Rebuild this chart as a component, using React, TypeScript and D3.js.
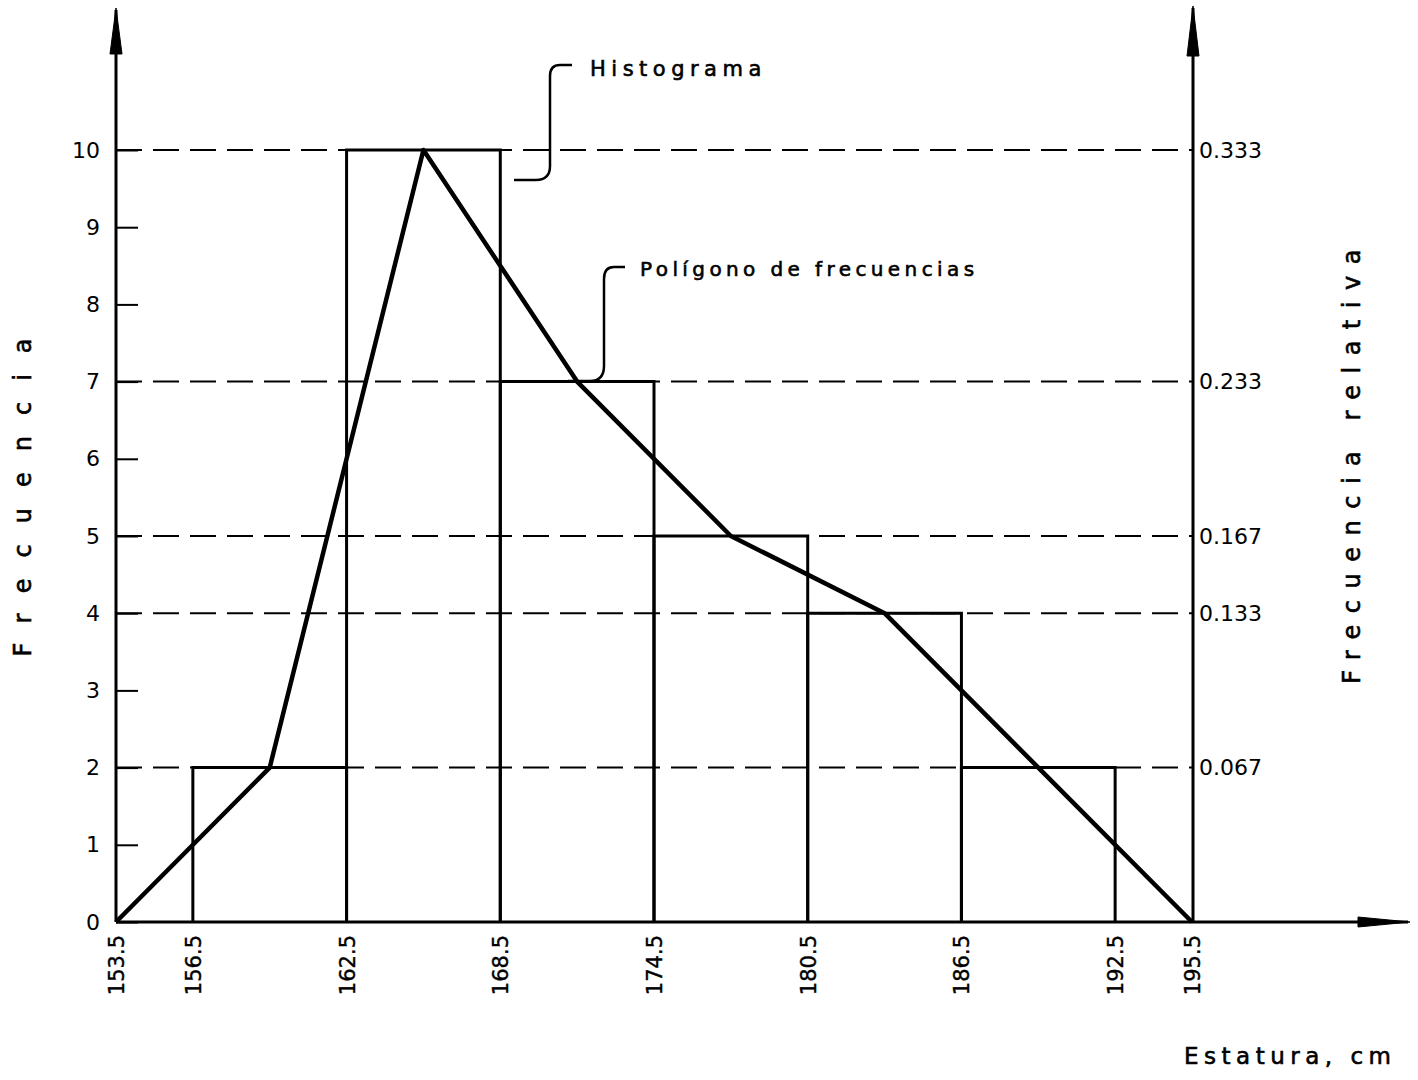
import React, { useRef, useEffect } from "react";
import * as d3 from "d3";

// histogram classes (estatura, cm)
const binStart = [156.5, 162.5, 168.5, 174.5, 180.5, 186.5];
const binEnd = [162.5, 168.5, 174.5, 180.5, 186.5, 192.5];
const binFreq = [2, 10, 7, 5, 4, 2];

// frequency polygon (class marks, closed at both ends)
const polyX = [153.5, 159.5, 165.5, 171.5, 177.5, 183.5, 189.5, 195.5];
const polyFreq = [0, 2, 10, 7, 5, 4, 2, 0];

const xTicks = [153.5, 156.5, 162.5, 168.5, 174.5, 180.5, 186.5, 192.5, 195.5];
const yTicks = [0, 1, 2, 3, 4, 5, 6, 7, 8, 9, 10];
const dashLevels = [2, 4, 5, 7, 10];
const relLabels = ["0.067", "0.133", "0.167", "0.233", "0.333"];

const FONT = "'DejaVu Sans', sans-serif";

function App() {
  const svgRef = useRef<SVGSVGElement>(null);

  useEffect(() => {
    const width = 1418, height = 1080;
    const x0 = 116, x1 = 1192, yBase = 922, yTop = 150;

    const xScale = d3.scaleLinear().domain([153.5, 195.5]).range([x0, x1]);
    const yScale = d3.scaleLinear().domain([0, 10]).range([yBase, yTop]);

    const svg = d3.select(svgRef.current);
    svg.selectAll("*").remove();
    svg.attr("width", width).attr("height", height);

    svg.append("rect").attr("width", width).attr("height", height).attr("fill", "#fff");

    // dashed guide lines
    svg.selectAll(".dash")
      .data(dashLevels)
      .join("line")
        .attr("x1", x0)
        .attr("x2", x1)
        .attr("y1", d => yScale(d))
        .attr("y2", d => yScale(d))
        .attr("stroke", "#000")
        .attr("stroke-width", 2)
        .attr("stroke-dasharray", "26 11");

    // histogram bars (outlines)
    const bins = binFreq.map((f, i) => ({ a: binStart[i], b: binEnd[i], f }));
    svg.selectAll(".bar")
      .data(bins)
      .join("path")
        .attr("d", d => `M${xScale(d.a)},${yBase}V${yScale(d.f)}H${xScale(d.b)}V${yBase}`)
        .attr("fill", "none")
        .attr("stroke", "#000")
        .attr("stroke-width", 3);

    // left axis
    const yAxis = d3.axisLeft(yScale).tickValues(yTicks).tickSize(-22).tickPadding(16);
    const gy = svg.append("g").attr("transform", `translate(${x0},0)`).call(yAxis);
    gy.select(".domain").remove();
    gy.selectAll("line").attr("stroke-width", 2);
    gy.selectAll("text").attr("font-family", FONT).attr("font-size", 22).attr("fill", "#000");

    // right axis
    const yAxisR = d3.axisRight(yScale)
      .tickValues(dashLevels)
      .tickSize(0)
      .tickPadding(7)
      .tickFormat((d, i) => relLabels[i]);
    const gr = svg.append("g").attr("transform", `translate(${x1},0)`).call(yAxisR);
    gr.select(".domain").remove();
    gr.selectAll("text").attr("font-family", FONT).attr("font-size", 22).attr("fill", "#000");

    // bottom axis, rotated labels
    const xAxis = d3.axisBottom(xScale).tickValues(xTicks).tickSize(0).tickFormat(d3.format(".1f"));
    const gx = svg.append("g").attr("transform", `translate(0,${yBase})`).call(xAxis);
    gx.select(".domain").remove();
    gx.selectAll("text")
      .attr("transform", "rotate(-90)")
      .attr("text-anchor", "end")
      .attr("x", -13)
      .attr("y", 0)
      .attr("dy", "0.36em")
      .attr("font-family", FONT)
      .attr("font-size", 21)
      .attr("fill", "#000")
      .attr("stroke", "#000")
      .attr("stroke-width", 0.4);

    // axis lines with arrows
    const axes = svg.append("g").attr("stroke", "#000").attr("stroke-width", 3).attr("fill", "#000");
    axes.append("line").attr("x1", x0).attr("x2", x0).attr("y1", yBase).attr("y2", 10);
    axes.append("line").attr("x1", x1 + 1).attr("x2", x1 + 1).attr("y1", yBase).attr("y2", 8);
    axes.append("line").attr("x1", x0).attr("x2", 1408).attr("y1", yBase).attr("y2", yBase);
    axes.append("path").attr("stroke-width", 1)
      .attr("d", `M${x0},8L${x0 + 6},54L${x0 - 6},54Z`);
    axes.append("path").attr("stroke-width", 1)
      .attr("d", `M${x1 + 1},6L${x1 + 7},56L${x1 - 5},56Z`);
    axes.append("path").attr("stroke-width", 1)
      .attr("d", `M1410,${yBase}L1358,${yBase - 5}L1358,${yBase + 5}Z`);

    // frequency polygon
    const line = d3.line<number>()
      .x((d, i) => xScale(polyX[i]))
      .y(d => yScale(d));
    svg.append("path")
      .attr("d", line(polyFreq))
      .attr("fill", "none")
      .attr("stroke", "#000")
      .attr("stroke-width", 4.5)
      .attr("stroke-linejoin", "round");

    // annotations
    const ann = svg.append("g").attr("fill", "none").attr("stroke", "#000").attr("stroke-width", 2.5);
    ann.append("path").attr("d", "M572,65H560Q550,65 550,76V166Q550,180 536,180H514");
    ann.append("path").attr("d", "M625,267H614Q604,267 604,279V366Q604,381 590,381H568");

    const txt = svg.append("g").attr("font-family", FONT).attr("fill", "#000")
      .attr("stroke", "#000").attr("stroke-width", 0.6);
    txt.append("text").attr("x", 590).attr("y", 76).attr("font-size", 21)
      .attr("letter-spacing", 5.5).text("Histograma");
    txt.append("text").attr("x", 640).attr("y", 276).attr("font-size", 20)
      .attr("letter-spacing", 4.4).text("Polígono de frecuencias");
    txt.append("text").attr("x", 1184).attr("y", 1064).attr("font-size", 23)
      .attr("letter-spacing", 5.5).text("Estatura, cm");

    txt.append("text")
      .attr("transform", "translate(31,487) rotate(-90)")
      .attr("text-anchor", "middle")
      .attr("font-size", 24)
      .attr("letter-spacing", 21)
      .text("Frecuencia");
    txt.append("text")
      .attr("transform", "translate(1360,461) rotate(-90)")
      .attr("text-anchor", "middle")
      .attr("font-size", 24)
      .attr("letter-spacing", 11.5)
      .text("Frecuencia relativa");
  }, []);

  return (
    <div>
      <svg ref={svgRef} style={{ position: "absolute", left: 0, top: 0 }}></svg>
    </div>
  );
}

export default App;
